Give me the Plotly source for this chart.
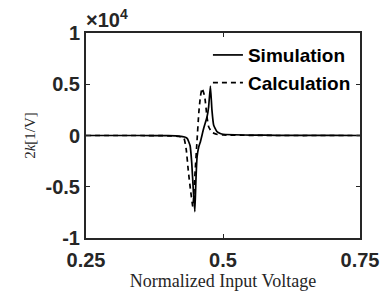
import plotly.graph_objects as go

# Data (y in units of 1e4 [1/V])
x_sim = [0.25, 0.30, 0.35, 0.40, 0.42, 0.43, 0.435, 0.44, 0.443, 0.446, 0.4486,
         0.4505, 0.4527, 0.4558, 0.4588, 0.4648, 0.4708, 0.4738, 0.477, 0.4798,
         0.483, 0.489, 0.495, 0.50, 0.55, 0.60, 0.65, 0.70, 0.75]
y_sim = [0.0, 0.0, 0.0, -0.002, -0.006, -0.015, -0.03, -0.10, -0.27, -0.55, -0.743,
         -0.45, -0.21, -0.11, -0.06, 0.07, 0.18, 0.28, 0.483, 0.25,
         0.10, 0.037, 0.02, 0.012, 0.004, 0.002, 0.001, 0.001, 0.0]

x_calc = [0.25, 0.35, 0.40, 0.42, 0.4287, 0.433, 0.4366, 0.4407, 0.445, 0.4486,
          0.4527, 0.4558, 0.4588, 0.4618, 0.4666, 0.4708, 0.4738, 0.480, 0.49,
          0.50, 0.60, 0.75]
y_calc = [0.0, 0.0, -0.003, -0.01, -0.027, -0.14, -0.34, -0.53, -0.695, -0.40,
          -0.044, 0.22, 0.38, 0.46, 0.38, 0.18, 0.086, 0.03, 0.01,
          0.005, 0.0, 0.0]

x_ticks = [0.25, 0.5, 0.75]
x_tick_labels = ["0.25", "0.5", "0.75"]
y_ticks = [-1, -0.5, 0, 0.5, 1]
y_tick_labels = ["-1", "-0.5", "0", "0.5", "1"]

axis_color = "#262626"
tick_font = dict(family="Liberation Sans, Arial, sans-serif", size=20, color=axis_color)
serif = "Liberation Serif, Times New Roman, serif"

fig = go.Figure()
fig.add_trace(go.Scatter(x=x_sim, y=y_sim, mode="lines", name="<b>Simulation</b>",
                         line=dict(color="black", width=1.7, shape="spline", smoothing=0.4)))
fig.add_trace(go.Scatter(x=x_calc, y=y_calc, mode="lines", name="<b>Calculation</b>",
                         line=dict(color="black", width=1.7, dash="5px,4px", shape="spline", smoothing=0.4)))

fig.update_layout(
    width=391, height=299,
    margin=dict(l=86, r=28, t=33, b=61),
    paper_bgcolor="white", plot_bgcolor="white",
    showlegend=True,
    legend=dict(x=0.445, y=0.985, xanchor="left", yanchor="top",
                bgcolor="rgba(0,0,0,0)", borderwidth=0,
                font=dict(family="Liberation Sans, Arial, sans-serif", size=19, color="black"),
                tracegroupgap=0, itemwidth=30),
    xaxis=dict(range=[0.25, 0.75], tickvals=x_ticks, ticktext=[f"<b>{t}</b>" for t in x_tick_labels],
               showgrid=False, zeroline=False, showline=True, linecolor=axis_color, linewidth=2,
               mirror="ticks", ticks="inside", ticklen=4, tickcolor=axis_color, tickwidth=1,
               tickfont=tick_font, ticklabelstandoff=3,
               title=dict(text="Normalized Input Voltage",
                          font=dict(family=serif, size=18, color=axis_color),
                          standoff=1)),
    yaxis=dict(range=[-1, 1], tickvals=y_ticks, ticktext=[f"<b>{t}</b>" for t in y_tick_labels],
               showgrid=False, zeroline=False, showline=True, linecolor=axis_color, linewidth=2,
               mirror="ticks", ticks="inside", ticklen=4, tickcolor=axis_color, tickwidth=1,
               tickfont=tick_font,
               title=dict(text="2<i>k</i>[1/V]",
                          font=dict(family=serif, size=15, color=axis_color),
                          standoff=6)),
)

fig.add_annotation(x=0, y=1, xref="paper", yref="paper", xanchor="left", yanchor="bottom",
                   text="<b>×10<sup>4</sup></b>", showarrow=False, xshift=-2, yshift=0,
                   font=dict(family="Liberation Sans, Arial, sans-serif", size=20, color=axis_color))

fig.write_html("out.html", config={"displayModeBar": False},
               post_script="document.body.style.margin='0';document.body.style.overflow='hidden';")
